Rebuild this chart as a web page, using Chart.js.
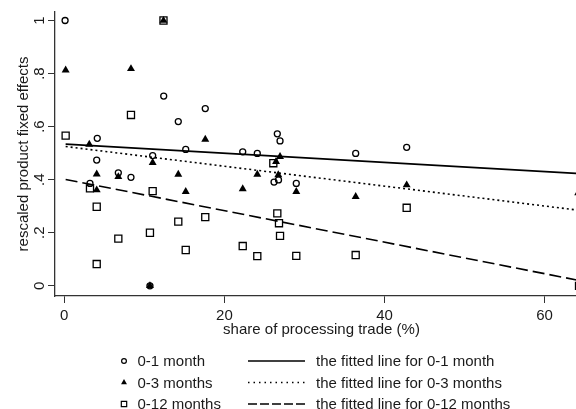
<!DOCTYPE html>
<html>
<head>
<meta charset="utf-8">
<script src="https://cdn.jsdelivr.net/npm/chart.js@4/dist/chart.umd.min.js"></script>
<style>
html,body{margin:0;padding:0;overflow:hidden;background:#fff;}
#wrap{width:588px;height:409px;}
</style>
</head>
<body>
<div id="wrap"><canvas id="fx" width="588" height="409"></canvas></div>
<script>
// share of processing trade (%) vs rescaled product fixed effects
var m1X=[0.1,4.12,4.05,3.21,6.75,8.33,11.04,12.42,14.24,15.17,17.61,22.29,24.11,26.61,26.95,26.2,26.76,28.98,36.4,42.77,10.7];
var m1Y=[1.0,0.556,0.474,0.386,0.426,0.409,0.491,0.715,0.619,0.514,0.668,0.505,0.499,0.573,0.546,0.391,0.399,0.386,0.499,0.522,0];
var m3X=[0.17,8.33,3.12,4.05,4.05,6.75,11.04,14.24,15.17,17.61,22.29,24.11,26.45,26.95,26.73,28.98,36.4,42.77,12.39,10.7,64.2];
var m3Y=[0.813,0.818,0.533,0.421,0.361,0.411,0.464,0.42,0.355,0.552,0.365,0.42,0.468,0.487,0.418,0.355,0.336,0.38,1.0,0,0.35];
var m12X=[0.17,8.33,3.21,4.05,4.05,6.75,10.7,11.04,14.24,15.17,17.61,22.29,24.11,26.11,26.61,26.82,26.95,28.98,36.4,42.77,12.39,64.3];
var m12Y=[0.566,0.644,0.367,0.298,0.082,0.178,0.2,0.357,0.242,0.135,0.259,0.15,0.112,0.462,0.273,0.236,0.188,0.113,0.116,0.294,1.0,0];

// fitted lines, end points
var fitX=[0.17,65];
var fit1Y=[0.534,0.422];
var fit3Y=[0.525,0.282];
var fit12Y=[0.401,0.016];

var xTicks=[0,20,40,60];
var yTicks=[0,0.2,0.4,0.6,0.8,1];
var yTickText=['0','.2','.4','.6','.8','1'];
var seriesNames=['0-1 month','0-3 months','0-12 months'];
var fitNames=['the fitted line for 0-1 month','the fitted line for 0-3 months','the fitted line for 0-12 months'];

function pts(xs,ys){
  var out=[];
  for(var i=0;i<xs.length;i++){out.push({x:xs[i],y:ys[i]});}
  return out;
}

var FONT='"Liberation Sans", Arial, sans-serif';
var ink='#1a1a1a';

// legend below the plot, drawn stata style in two columns
var rowY=[362,383.5,405];
var legendPlug={
  id:'stataLegend',
  afterDraw:function(chart){
    var c=chart.ctx;
    c.save();
    c.font='15px '+FONT;
    c.textBaseline='middle';
    c.textAlign='left';
    var marks=[
      {pointStyle:'circle',radius:2.4,borderWidth:1.2,fill:'rgba(0,0,0,0)'},
      {pointStyle:'triangle',radius:3.4,borderWidth:0,fill:'#000'},
      {pointStyle:'rect',radius:3.8,borderWidth:1.2,fill:'rgba(0,0,0,0)'}
    ];
    var dashes=[[],[1.5,4],[9,3]];
    for(var i=0;i<3;i++){
      var y=rowY[i]-1;
      c.fillStyle=marks[i].fill;
      c.strokeStyle='#000';
      c.lineWidth=marks[i].borderWidth;
      Chart.helpers.drawPoint(c,marks[i],124,y);
      c.fillStyle=ink;
      c.fillText(seriesNames[i],137.5,rowY[i]);
      c.beginPath();
      c.setLineDash(dashes[i]);
      c.lineWidth=1.5;
      c.strokeStyle='#000';
      c.moveTo(248,y);
      c.lineTo(305,y);
      c.stroke();
      c.setLineDash([]);
      c.fillText(fitNames[i],316,rowY[i]);
    }
    c.restore();
  }
};

new Chart(document.getElementById('fx'),{
  type:'scatter',
  data:{
    datasets:[
      {label:seriesNames[0],data:pts(m1X,m1Y),pointStyle:'circle',pointRadius:3,borderWidth:1.3,
       borderColor:'#000',backgroundColor:'rgba(0,0,0,0)',clip:false},
      {label:seriesNames[1],data:pts(m3X,m3Y),pointStyle:'triangle',pointRadius:4.6,borderWidth:0,
       borderColor:'#000',backgroundColor:'#000',clip:false},
      {label:seriesNames[2],data:pts(m12X,m12Y),pointStyle:'rect',pointRadius:5,borderWidth:1.3,
       borderColor:'#000',backgroundColor:'rgba(0,0,0,0)',clip:false},
      {label:fitNames[0],data:pts(fitX,fit1Y),showLine:true,pointRadius:0,borderWidth:1.6,borderColor:'#000'},
      {label:fitNames[1],data:pts(fitX,fit3Y),showLine:true,pointRadius:0,borderWidth:1.6,borderColor:'#000',borderDash:[2,3]},
      {label:fitNames[2],data:pts(fitX,fit12Y),showLine:true,pointRadius:0,borderWidth:1.6,borderColor:'#000',borderDash:[12,5]}
    ]
  },
  options:{
    responsive:false,
    animation:false,
    devicePixelRatio:1,
    // the plot runs past the window on the right, as in the cropped original
    layout:{autoPadding:false,padding:{top:12,right:0,left:0,bottom:70}},
    plugins:{legend:{display:false},tooltip:{enabled:false}},
    scales:{
      x:{
        type:'linear',min:-1.16,max:65.42,
        afterBuildTicks:function(s){s.ticks=xTicks.map(function(v){return {value:v};});},
        afterFit:function(s){s.height=43;s.paddingLeft=0;s.paddingRight=0;},
        grid:{drawOnChartArea:false,drawTicks:true,tickLength:7,color:'#333',lineWidth:1},
        border:{display:true,color:'#333',width:1.3},
        ticks:{color:ink,padding:4,maxRotation:0,font:{size:15,family:FONT}},
        title:{display:true,text:'share of processing trade (%)',color:ink,padding:{top:0,bottom:0},font:{size:15,family:FONT}}
      },
      y:{
        type:'linear',min:-0.0384,max:1.032,
        afterBuildTicks:function(s){s.ticks=yTicks.map(function(v){return {value:v};});},
        afterFit:function(s){s.width=55;s.paddingTop=0;s.paddingBottom=0;},
        grid:{drawOnChartArea:false,drawTicks:true,tickLength:7,color:'#333',lineWidth:1},
        border:{display:true,color:'#333',width:1.3},
        ticks:{color:ink,padding:2,minRotation:90,maxRotation:90,crossAlign:'center',
          font:{size:15,family:FONT},
          callback:function(v){var k=yTicks.indexOf(v);return k<0?'':yTickText[k];}},
        title:{display:true,text:'rescaled product fixed effects',color:ink,padding:{top:14.5,bottom:0},font:{size:15,family:FONT}}
      }
    }
  },
  plugins:[legendPlug]
});
</script>
</body>
</html>
